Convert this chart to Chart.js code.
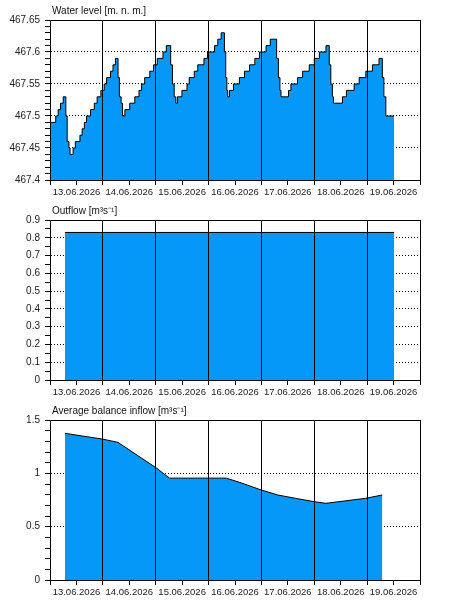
<!DOCTYPE html>
<html>
<head>
<meta charset="utf-8">
<title>Reservoir</title>
<script src="https://cdn.jsdelivr.net/npm/chart.js@4.4.1/dist/chart.umd.min.js"></script>
<style>
    body { margin: 0; background: #fff; }
    canvas { display: block; }
</style>
</head>
<body>
<canvas id="levelChart" width="450" height="200"></canvas>
<canvas id="outflowChart" width="450" height="200"></canvas>
<canvas id="inflowChart" width="450" height="200"></canvas>
<script>
// x values are hours counted from 13.06.2026 00:00
const dayLabels = ['13.06.2026', '14.06.2026', '15.06.2026', '16.06.2026', '17.06.2026', '18.06.2026', '19.06.2026'];

const levelHours = [0, 2.6, 3.7, 4.8, 6.0, 7.2, 7.8, 8.6, 9.1, 10.5, 11.5, 13.6, 14.6, 15.6, 16.6, 18.4, 20.1, 21.4, 23.1,
    24.6, 25.7, 27.5, 28.6, 29.7, 30.9, 31.5, 32.3, 32.9, 34.0, 36.2, 38.5, 40.4, 41.6, 43.0, 45.3, 47.0,
    48.7, 51.3, 52.8, 54.8, 55.6, 56.4, 57.1, 57.8, 59.9, 62.2, 63.2, 65.5, 67.1, 69.9, 71.5,
    74.7, 76.2, 77.7, 79.2, 79.8, 80.3, 80.7, 81.5, 83.3, 86.0, 88.3, 90.6, 93.0, 95.1,
    98.1, 100.0, 102.9, 103.7, 104.4, 104.9, 108.3, 109.4, 112.4, 114.7, 117.7,
    120.0, 122.3, 125.3, 126.8, 127.5, 128.2, 128.7, 132.8, 134.6, 138.1, 140.4,
    143.4, 146.4, 149.4, 150.9, 151.6, 152.5, 156.2];
const levelValues = [467.49, 467.50, 467.51, 467.52, 467.53, 467.50, 467.46, 467.45, 467.44, 467.45, 467.46, 467.47, 467.48, 467.49, 467.50, 467.51, 467.52, 467.53, 467.54,
    467.55, 467.56, 467.57, 467.58, 467.59, 467.56, 467.53, 467.52, 467.50, 467.51, 467.52, 467.53, 467.54, 467.55, 467.56, 467.57, 467.58,
    467.59, 467.60, 467.61, 467.58, 467.55, 467.53, 467.52, 467.53, 467.54, 467.55, 467.56, 467.57, 467.58, 467.59, 467.60,
    467.61, 467.62, 467.63, 467.60, 467.56, 467.54, 467.53, 467.54, 467.55, 467.56, 467.57, 467.58, 467.59, 467.60,
    467.61, 467.62, 467.59, 467.56, 467.54, 467.53, 467.54, 467.55, 467.56, 467.57, 467.58,
    467.59, 467.60, 467.61, 467.58, 467.55, 467.53, 467.52, 467.53, 467.54, 467.55, 467.56,
    467.57, 467.58, 467.59, 467.56, 467.53, 467.50, 467.50];

const outflowHours = [6.8, 156.2];
const outflowValues = [0.83, 0.83];

const inflowHours = [6.8, 24.1, 30.9, 48.3, 54.3, 80.0, 86.0, 95.9, 103.4, 111.4, 120.0, 125.3, 143.4, 150.9];
const inflowValues = [1.375, 1.32, 1.29, 1.05, 0.955, 0.955, 0.916, 0.844, 0.797, 0.766, 0.734, 0.719, 0.766, 0.797];

const FILL = '#0598f8';
const FONT_FAMILY = "'Liberation Sans', Arial, sans-serif";
const FONT = { family: FONT_FAMILY, size: 10, lineHeight: 1.2 };

function toPoints(xs, ys) {
    return xs.map((x, i) => ({ x: x, y: ys[i] }));
}

// panel caption + black frame round the plot area (top and right edges)
const framePlugin = {
    id: 'frame',
    afterDraw(chart, args, opts) {
        const xs = chart.scales.x;
        const ys = chart.scales.y;
        const ctx = chart.ctx;
        ctx.save();
        ctx.strokeStyle = '#000';
        ctx.lineWidth = 1;
        ctx.beginPath();
        ctx.moveTo(xs.left, ys.top + 0.5);
        ctx.lineTo(xs.right + 1, ys.top + 0.5);
        ctx.moveTo(xs.right + 0.5, ys.top);
        ctx.lineTo(xs.right + 0.5, ys.bottom);
        ctx.stroke();

        ctx.fillStyle = '#111';
        ctx.font = '10px ' + FONT_FAMILY;
        ctx.textAlign = 'left';
        ctx.textBaseline = 'middle';
        ctx.fillText(opts.text, xs.left + 2, 11);
        ctx.restore();
    }
};

function makeChart(id, title, dataset, yMin, yMax, yStep, labelEvery) {
    // labelEvery is in hundredths of the unit
    const isMajor = v => Math.round(v * 100) % labelEvery === 0;
    return new Chart(document.getElementById(id), {
        type: 'line',
        data: { datasets: [dataset] },
        plugins: [framePlugin],
        options: {
            responsive: false,
            animation: false,
            devicePixelRatio: 1,
            layout: { padding: { left: 0, right: 30, top: 20, bottom: 0 } },
            plugins: {
                legend: { display: false },
                tooltip: { enabled: false },
                title: { display: false },
                frame: { text: title }
            },
            scales: {
                x: {
                    type: 'linear', min: 0, max: 168,
                    afterFit: s => { s.height = 20; },
                    // day lines sit on top of the filled area
                    grid: {
                        z: 1,
                        color: c => (c.tick && c.tick.value % 24 === 0) ? '#000' : 'rgba(0,0,0,0)',
                        tickColor: '#000', tickLength: 5, lineWidth: 1
                    },
                    border: { color: '#000', z: 2 },
                    ticks: {
                        stepSize: 12, autoSkip: false, maxRotation: 0, minRotation: 0, padding: 2,
                        color: '#222', font: { ...FONT, size: 9.5 },
                        callback: v => (v % 24 === 12) ? dayLabels[Math.floor(v / 24)] : ''
                    }
                },
                y: {
                    min: yMin, max: yMax,
                    afterFit: s => { s.width = 50; },
                    grid: {
                        color: c => {
                            if (!c.tick) return 'rgba(0,0,0,0)';
                            const v = c.tick.value;
                            const inside = v > yMin + 1e-9 && v < yMax - 1e-9;
                            return (inside && isMajor(v)) ? '#000' : 'rgba(0,0,0,0)';
                        },
                        tickColor: '#000', tickLength: 5, lineWidth: 1
                    },
                    border: { color: '#000', dash: [1, 2] },
                    ticks: {
                        stepSize: yStep, autoSkip: false, padding: 5, color: '#222', font: FONT,
                        callback: v => isMajor(v) ? String(Math.round(v * 100) / 100) : ''
                    }
                }
            }
        }
    });
}

document.addEventListener('DOMContentLoaded', () => {
    makeChart('levelChart', 'Water level [m. n. m.]', {
        data: toPoints(levelHours, levelValues),
        stepped: true, fill: 'start', backgroundColor: FILL,
        borderColor: '#000', borderWidth: 1, pointRadius: 0
    }, 467.4, 467.65, 0.01, 5);

    makeChart('outflowChart', 'Outflow [m\u00b3s\u207b\u00b9]', {
        data: toPoints(outflowHours, outflowValues),
        fill: 'start', backgroundColor: FILL,
        borderColor: '#000', borderWidth: 1, pointRadius: 0
    }, 0, 0.9, 0.05, 10);

    makeChart('inflowChart', 'Average balance inflow [m\u00b3s\u207b\u00b9]', {
        data: toPoints(inflowHours, inflowValues),
        fill: 'start', backgroundColor: FILL, tension: 0,
        borderColor: '#000', borderWidth: 1, pointRadius: 0
    }, 0, 1.5, 0.1, 50);
});
</script>
</body>
</html>
